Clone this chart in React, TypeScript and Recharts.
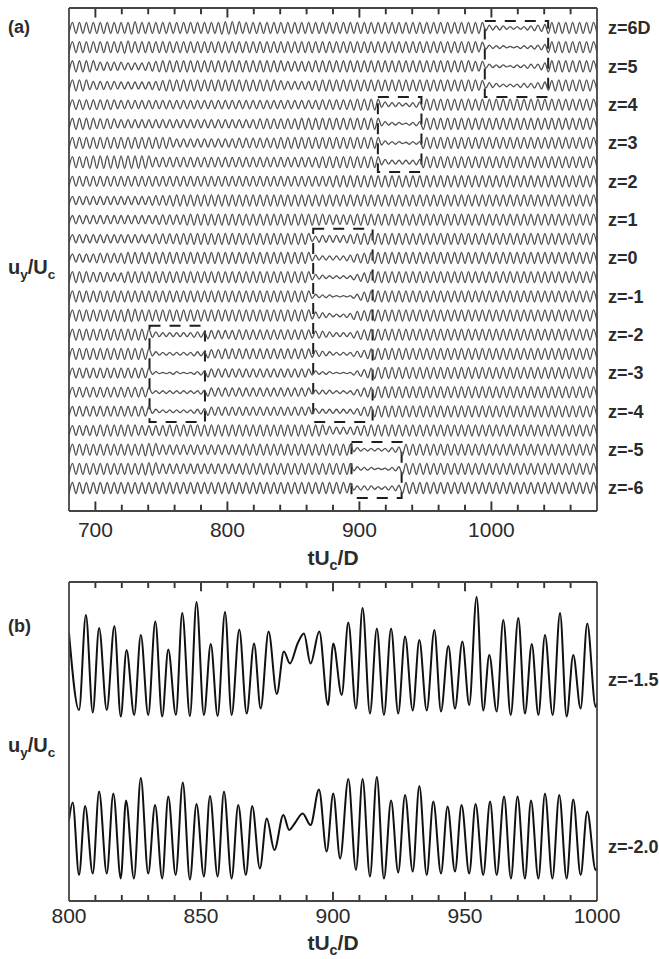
import React from 'react';
import { LineChart, Line, XAxis, YAxis, ReferenceArea } from 'recharts';

const FONT = '"Liberation Sans", Arial, Helvetica, sans-serif';
const FRAME = '#444444';
const TICK = '#333333';
const TEXT = '#2b2b2b';
const TRACE_A = '#505050';
const TRACE_B = '#111111';

// ---------- panel (a): 25 spanwise stations, z = 6D ... -6D ----------
const Z_STATIONS = [6, 5.5, 5, 4.5, 4, 3.5, 3, 2.5, 2, 1.5, 1, 0.5, 0, -0.5, -1, -1.5, -2, -2.5, -3, -3.5, -4, -4.5, -5, -5.5, -6];
const Z_TICKS = [6, 5, 4, 3, 2, 1, 0, -1, -2, -3, -4, -5, -6];
const Z_TICK_LABELS = ['z=6D', 'z=5', 'z=4', 'z=3', 'z=2', 'z=1', 'z=0', 'z=-1', 'z=-2', 'z=-3', 'z=-4', 'z=-5', 'z=-6'];
const A_RANGE = [680, 1080];
const A_CYCLES = 76;
const A_MAJOR_TICKS = [700, 800, 900, 1000];
const A_ALL_TICKS = [700, 720, 740, 760, 780, 800, 820, 840, 860, 880, 900, 920, 940, 960, 980, 1000, 1020, 1040, 1060];

// peak amplitude of each shedding cycle (one digit per cycle, 0-9), top trace first
const A_AMPLITUDES = [
  '8888888889888888888 8889998888888888888 8888888888888888888 8884332223458888888',
  '8888888898888888888 8888888888888888888 8888888888888888888 8873221122348888888',
  '8888666655567888888 8888888888887777888 8888888888888888888 8773221223358888888',
  '8886666555556788888 8888888888876666788 8888888888888888888 8874322233457888888',
  '7777777666666666666 6666666666666666677 7778888433234888888 8888888888888888888',
  '8888777666666666666 6666666677777788888 8888888322123888888 8888888888888888888',
  '8888888888888886666 6666677777788888888 8888888322122888888 8888888888888888888',
  '8889999999997777777 7777777777777777788 8888888433334888888 8888888888888888888',
  '7777777777777777777 7777777777777777777 8888888888888888888 8888888888888888888',
  '6666666666667778888 8888888888888888888 8888888888888888888 8888888888888888888',
  '6666666666666777788 8888888888888888887 7778888888888888888 8888888888888888888',
  '6666666666667777888 8888888888888888455 5567888888888888888 8888888888888888888',
  '6666777788888888888 8888888888888888433 3346788888888888888 8888888888888888888',
  '8887776688888888888 8888888888888888432 2224688888888888888 8888888888888888888',
  '8888888888888888888 8888888888888888322 1113688888888888888 8888888888888888888',
  '8888888899888888888 8888888888888888543 2236788888888888888 8888888888888888888',
  '8888888888884333334 4666677777777777554 3335788888888888888 8888888888888888888',
  '8888888888883222223 3667777777777777543 2224578888888888888 8888888888888888888',
  '7777777777772112112 3666666666666666322 1113578888888888888 8888888888888888888',
  '7777777777772222222 3666666666666666333 2224678888888888888 8888888888888888888',
  '7777777777773222223 4666666666666666433 3334678888888888888 8888888888888888888',
  '7777888888777788888 8888888888888888886 5556788888888888888 8888888888888888888',
  '8888888888899777777 7777778888888888888 8883222234888888888 8888888888888888888',
  '8888888888899777777 7777778888888888888 8883221123888888888 8888888888888888888',
  '8888888888888888888 8888888888888888888 8873332234888888888 8888888888888888888',
];

// dashed boxes round the vortex dislocations: [t start, t end, z top, z bottom]
const A_DISLOCATIONS = [
  [995, 1043, 6.18, 4.2],
  [914, 947, 4.2, 2.24],
  [865, 910, 0.76, -4.28],
  [741, 783, -1.77, -4.28],
  [894, 932, -4.8, -6.26],
];

// ---------- panel (b): two stations, peaks and troughs ----------
const B_RANGE = [800, 1000];
const B_MAJOR_TICKS = [800, 850, 900, 950, 1000];
const B_ALL_TICKS = [810, 820, 830, 840, 850, 860, 870, 880, 890, 900, 910, 920, 930, 940, 950, 960, 970, 980, 990];
const B_LABELS = ['z=-1.5', 'z=-2.0'];

const B_TOP_T = [800, 803.8, 806.4, 809, 811.4, 814.3, 817.2, 819.6, 821.8, 824.7, 827.2, 830, 832.7, 835.3, 837.6, 840.5, 842.9, 845.8, 848.3, 851.1, 853.7, 856.3, 859.1, 861.6, 864.5, 867.3, 870.1, 872.6, 875.6, 878.7, 881.4, 883.7, 886.6, 889, 891.5, 894.8, 898.1, 900.1, 903.3, 905.8, 908.7, 911.2, 914, 916.6, 919.3, 922, 924.7, 927.3, 930.2, 932.7, 935.5, 938.4, 940.9, 943.7, 946.2, 949, 951.6, 954.4, 956.9, 959.2, 962, 964.5, 967.3, 970.2, 972.7, 975.3, 977.8, 980.3, 983.2, 986, 988.5, 991, 993.8, 996.3, 999.5, 1000];
const B_TOP_V = [0.7, -0.84, 1.06, -0.89, 0.8, -0.84, 0.84, -0.97, 0.36, -0.94, 0.66, -0.94, 0.93, -0.97, 0.37, -0.94, 1.1, -0.96, 1.32, -0.94, 0.48, -0.96, 1.12, -0.94, 0.77, -0.91, 0.49, -0.81, 0.73, -0.52, 0.33, 0.09, 0.49, 0.69, 0.09, 0.73, -0.74, 0.49, -0.54, 0.91, -0.81, 1.2, -0.91, 0.79, -0.94, 0.79, -0.91, 0.63, -0.85, 0.56, -0.85, 0.76, -0.87, 0.44, -0.81, 0.53, -0.74, 1.42, -0.85, 0.26, -0.87, 0.96, -0.94, 1.0, -0.91, 0.48, -0.94, 0.66, -0.94, 1.1, -0.97, 0.26, -0.81, 0.89, -0.78, -0.7];

const B_BOT_T = [800, 801.4, 803.8, 806.1, 809, 811.4, 814.3, 816.8, 819.6, 821.6, 824.6, 827.2, 830, 832.6, 835.3, 837.6, 840.4, 843.1, 845.8, 848.3, 851.1, 853.4, 856.3, 858.7, 861.6, 864.1, 867, 869.4, 872.3, 874.9, 877.8, 881.2, 883.4, 885.6, 888.5, 891.5, 894.7, 897.6, 900.1, 902.7, 905.8, 908.7, 911.2, 914, 916.6, 919.3, 922, 924.7, 927.3, 930.2, 932.7, 935.5, 938, 940.9, 943.4, 946.2, 948.7, 951.6, 954, 956.9, 959.5, 962, 964.8, 967.4, 969.9, 972.7, 975, 977.8, 980.3, 983.1, 985.7, 988.5, 991, 993.8, 996.3, 999.5, 1000];
const B_BOT_V = [0.3, 0.65, -0.8, 0.58, -0.77, 0.87, -0.77, 0.83, -0.87, 0.69, -0.87, 1.14, -0.77, 0.6, -0.87, 0.77, -0.8, 1.05, -0.89, 0.62, -0.83, 0.78, -0.83, 0.87, -0.87, 0.6, -0.8, 0.58, -0.67, 0.33, -0.3, 0.4, 0.1, 0.24, 0.43, 0.2, 0.91, -0.33, 0.83, -0.47, 1.12, -0.7, 1.12, -0.83, 1.16, -0.87, 0.69, -0.75, 0.8, -0.73, 0.98, -0.8, 0.67, -0.77, 0.57, -0.73, 0.6, -0.77, 0.62, -0.8, 0.67, -0.8, 0.77, -0.87, 0.77, -0.87, 0.69, -0.87, 0.83, -0.87, 0.8, -0.87, 0.71, -0.8, 0.47, -0.7, -0.65];

// vertical placement of the two stacked traces in panel (b)
const B_DOMAIN = [-2.96, 3.42];
const B_OFFSETS = [1.7, -1.64];
const B_LABEL_TICKS = [1.46, -1.88];

const A_DOMAIN = [-6.6, 6.52];
const AMP_UNIT = 0.018;
const A_STEP = (A_RANGE[1] - A_RANGE[0]) / (A_CYCLES * 2);

const aRows = A_AMPLITUDES.map((row, i) => {
  const digits = row.replace(/ /g, '').padEnd(A_CYCLES, '8');
  const pts: { t: number; v: number }[] = [];
  for (let j = 0; j <= A_CYCLES * 2; j++) {
    const d = Number(digits[Math.min(Math.floor(j / 2), A_CYCLES - 1)]);
    pts.push({ t: A_RANGE[0] + j * A_STEP, v: Z_STATIONS[i] + (j % 2 ? 1 : -1) * d * AMP_UNIT });
  }
  return pts;
});

const bTop = B_TOP_T.map((t, i) => ({ t, v: B_OFFSETS[0] + B_TOP_V[i] }));
const bBot = B_BOT_T.map((t, i) => ({ t, v: B_OFFSETS[1] + B_BOT_V[i] }));

// inward tick marks on the top and bottom frame edges, drawn as thin filled areas;
// width and length are shares of the x and y domains (about 2px wide, 9px / 6px long)
const tickRects = (all: number[], major: number[], xDomain: number[], yDomain: number[], majorShare: number, minorShare: number) => {
  const halfW = (xDomain[1] - xDomain[0]) * 0.0018;
  const span = yDomain[1] - yDomain[0];
  const rects: number[][] = [];
  all.forEach((t) => {
    const len = span * (major.includes(t) ? majorShare : minorShare);
    rects.push([t - halfW, t + halfW, yDomain[0], yDomain[0] + len]);
    rects.push([t - halfW, t + halfW, yDomain[1] - len, yDomain[1]]);
  });
  return rects;
};

const aTicks = tickRects(A_ALL_TICKS, A_MAJOR_TICKS, A_RANGE, A_DOMAIN, 0.019, 0.0125);
const bTicks = tickRects(B_ALL_TICKS, B_MAJOR_TICKS, B_RANGE, B_DOMAIN, 0.029, 0.019);

const tickFont = { fontSize: 21, fill: TEXT, fontFamily: FONT };
const zFont = { fontSize: 18, fill: TEXT, fontFamily: FONT, fontWeight: 700 };

const Sub: React.FC<{ children: React.ReactNode }> = ({ children }) => (
  <span style={{ fontSize: '0.68em', position: 'relative', top: '0.35em' }}>{children}</span>
);

const Txt: React.FC<{ left: number; top: number; size: number; center?: boolean; children: React.ReactNode }> = ({ left, top, size, center, children }) => (
  <div
    style={{
      position: 'absolute',
      left,
      top,
      fontSize: size,
      lineHeight: `${size}px`,
      fontWeight: 700,
      whiteSpace: 'nowrap',
      transform: center ? 'translateX(-50%)' : undefined,
    }}
  >
    {children}
  </div>
);

const frameAxes = (id: string, domain: number[], major: number[], gap: number) => [
  <XAxis key={id} xAxisId={id} type="number" dataKey="t" domain={domain} allowDataOverflow ticks={major} interval={0}
    height={1} tickLine={false} tickSize={0} tickMargin={gap} tick={tickFont} stroke={FRAME} strokeWidth={1.8} />,
  <XAxis key={id + 't'} xAxisId={id + 't'} orientation="top" type="number" domain={domain} allowDataOverflow ticks={major} interval={0}
    height={1} tick={false} tickLine={false} stroke={FRAME} strokeWidth={1.8} />,
];

export default function App() {
  return (
    <div style={{ position: 'absolute', left: 0, top: 0, width: 659, height: 959, background: '#fff', fontFamily: FONT, color: TEXT, overflow: 'hidden' }}>
      <div style={{ position: 'absolute', left: 0, top: 0 }}>
        <LineChart width={659} height={540} margin={{ top: 7, right: 61, bottom: 28, left: 68 }}>
          {frameAxes('a', A_RANGE, A_MAJOR_TICKS, 11)}
          <YAxis yAxisId="a" type="number" domain={A_DOMAIN} allowDataOverflow width={1} tick={false} stroke={FRAME} strokeWidth={1.8} />
          <YAxis yAxisId="az" orientation="right" type="number" domain={A_DOMAIN} allowDataOverflow width={1}
            ticks={Z_TICKS} interval={0} tickLine={false} tickMargin={5} stroke={FRAME} strokeWidth={1.8}
            tick={zFont} tickFormatter={(_v: number, i: number) => Z_TICK_LABELS[i]} />
          {aRows.map((pts, i) => (
            <Line key={i} data={pts} xAxisId="a" yAxisId="a" dataKey="v" type="monotone" dot={false}
              stroke={TRACE_A} strokeWidth={1.3} isAnimationActive={false} />
          ))}
          {A_DISLOCATIONS.map(([t0, t1, z0, z1], i) => (
            <ReferenceArea key={i} xAxisId="a" yAxisId="a" x1={t0} x2={t1} y1={z1} y2={z0}
              fill="none" fillOpacity={0} stroke="#1e1e1e" strokeWidth={2} strokeDasharray="11 9" />
          ))}
          {aTicks.map(([x1, x2, y1, y2], i) => (
            <ReferenceArea key={'tk' + i} xAxisId="a" yAxisId="a" x1={x1} x2={x2} y1={y1} y2={y2}
              fill={TICK} fillOpacity={1} stroke="none" />
          ))}
        </LineChart>
      </div>

      <div style={{ position: 'absolute', left: 0, top: 560 }}>
        <LineChart width={659} height={399} margin={{ top: 21, right: 61, bottom: 57, left: 68 }}>
          {frameAxes('b', B_RANGE, B_MAJOR_TICKS, 7)}
          <YAxis yAxisId="b" type="number" domain={B_DOMAIN} allowDataOverflow width={1} tick={false} stroke={FRAME} strokeWidth={1.8} />
          <YAxis yAxisId="bz" orientation="right" type="number" domain={B_DOMAIN} allowDataOverflow width={1}
            ticks={B_LABEL_TICKS} interval={0} tickLine={false} tickMargin={5} stroke={FRAME} strokeWidth={1.8}
            tick={zFont} tickFormatter={(_v: number, i: number) => B_LABELS[i]} />
          <Line data={bTop} xAxisId="b" yAxisId="b" dataKey="v" type="monotone" dot={false} stroke={TRACE_B} strokeWidth={2} isAnimationActive={false} />
          <Line data={bBot} xAxisId="b" yAxisId="b" dataKey="v" type="monotone" dot={false} stroke={TRACE_B} strokeWidth={2} isAnimationActive={false} />
          {bTicks.map(([x1, x2, y1, y2], i) => (
            <ReferenceArea key={'tk' + i} xAxisId="b" yAxisId="b" x1={x1} x2={x2} y1={y1} y2={y2}
              fill={TICK} fillOpacity={1} stroke="none" />
          ))}
        </LineChart>
      </div>

      <Txt left={8} top={18} size={18}>(a)</Txt>
      <Txt left={8} top={257} size={20}>u<Sub>y</Sub>/U<Sub>c</Sub></Txt>
      <Txt left={333} top={547} size={21} center>tU<Sub>c</Sub>/D</Txt>

      <Txt left={8} top={617} size={18}>(b)</Txt>
      <Txt left={8} top={735} size={20}>u<Sub>y</Sub>/U<Sub>c</Sub></Txt>
      <Txt left={333} top={932} size={21} center>tU<Sub>c</Sub>/D</Txt>
    </div>
  );
}
